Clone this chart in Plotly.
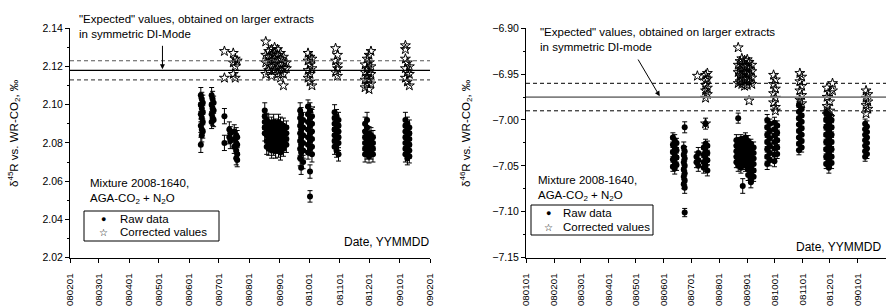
import pandas as pd
import plotly.graph_objects as go

W, H = 886, 306

# ---------------- LEFT PANEL : delta45R ----------------
l_raw_date = """
080613 080613 080613 080613 080613
080614 080614 080614 080614 080614
080615 080615 080615 080615
080624 080624 080624 080624
080625 080625 080625
080626 080626 080626
080707 080707
080712 080712
080713 080713
080717 080717 080717
080719 080719 080719 080719
080720 080720 080720 080720
080817 080817 080817 080817 080817
080819 080819 080819 080819 080819 080819
080821 080821 080821 080821 080821 080821
080824 080824 080824 080824 080824 080824
080826 080826 080826 080826 080826 080826
080828 080828 080828 080828 080828 080828
080831 080831 080831 080831 080831 080831
080902 080902 080902 080902 080902 080902
080905 080905 080905 080905 080905
080908 080908 080908 080908
080922 080922 080922 080922 080922 080922 080922
080923 080923 080923 080923 080923 080923 080923
080925 080925 080925 080925 080925 080925
080930 080930 080930 080930 080930 080930 080930
081002 081002 081002 081002 081002 081002 081002 081002
081004 081004 081004 081004 081004 081004
081027 081027 081027 081027 081027 081027 081027
081029 081029 081029 081029 081029 081029 081029
081031 081031 081031 081031 081031 081031
081127 081127 081127 081127 081127 081127
081129 081129 081129 081129 081129 081129
081201 081201 081201 081201 081201
081203 081203 081203 081203
081205 081205 081205 081205
090107 090107 090107 090107 090107 090107 090107
090109 090109 090109 090109 090109 090109 090109
090111 090111 090111 090111 090111 090111
""".split()

l_raw_val = [
    2.105, 2.100, 2.095, 2.089, 2.079,
    2.103, 2.098, 2.093, 2.087, 2.084,
    2.101, 2.096, 2.091, 2.086,
    2.105, 2.100, 2.095, 2.091,
    2.103, 2.098, 2.093,
    2.101, 2.097, 2.092,
    2.094, 2.080,
    2.087, 2.083,
    2.085, 2.081,
    2.086, 2.082, 2.078,
    2.084, 2.080, 2.076, 2.072,
    2.083, 2.079, 2.074, 2.071,
    2.097, 2.094, 2.091, 2.088, 2.085,
    2.092, 2.089, 2.087, 2.084, 2.081, 2.078,
    2.091, 2.088, 2.085, 2.083, 2.080, 2.077,
    2.090, 2.087, 2.084, 2.081, 2.079, 2.076,
    2.091, 2.088, 2.086, 2.083, 2.080, 2.077,
    2.089, 2.087, 2.084, 2.081, 2.078, 2.076,
    2.091, 2.088, 2.085, 2.082, 2.079, 2.076,
    2.090, 2.087, 2.084, 2.081, 2.078, 2.075,
    2.089, 2.086, 2.083, 2.080, 2.077,
    2.088, 2.085, 2.082, 2.079,
    2.097, 2.093, 2.089, 2.085, 2.081, 2.077, 2.072,
    2.095, 2.091, 2.087, 2.083, 2.079, 2.075, 2.067,
    2.092, 2.088, 2.084, 2.080, 2.076, 2.070,
    2.099, 2.095, 2.091, 2.087, 2.083, 2.079, 2.075,
    2.097, 2.093, 2.089, 2.085, 2.081, 2.077, 2.065, 2.052,
    2.094, 2.090, 2.086, 2.082, 2.078, 2.074,
    2.096, 2.093, 2.090, 2.087, 2.084, 2.081, 2.078,
    2.094, 2.091, 2.088, 2.085, 2.082, 2.079, 2.076,
    2.092, 2.089, 2.086, 2.083, 2.080, 2.074,
    2.090, 2.086, 2.083, 2.080, 2.077, 2.074,
    2.092, 2.088, 2.084, 2.081, 2.078, 2.075,
    2.085, 2.082, 2.079, 2.076, 2.073,
    2.084, 2.081, 2.078, 2.075,
    2.083, 2.080, 2.077, 2.074,
    2.092, 2.089, 2.086, 2.083, 2.080, 2.077, 2.074,
    2.090, 2.087, 2.084, 2.081, 2.078, 2.075, 2.072,
    2.088, 2.085, 2.082, 2.079, 2.076, 2.073,
]

l_raw_err = [
    0.004, 0.0035, 0.004, 0.0035, 0.004,
    0.0035, 0.004, 0.0035, 0.004, 0.0035,
    0.004, 0.0035, 0.004, 0.0035,
    0.004, 0.0035, 0.004, 0.0035,
    0.004, 0.0035, 0.004,
    0.0035, 0.004, 0.0035,
    0.004, 0.004,
    0.004, 0.0035,
    0.0035, 0.004,
    0.0035, 0.004, 0.0035,
    0.004, 0.0035, 0.004, 0.0035,
    0.0035, 0.004, 0.0035, 0.0035,
    0.004, 0.0035, 0.004, 0.0035, 0.004,
    0.0035, 0.004, 0.0035, 0.004, 0.0035, 0.004,
    0.004, 0.0035, 0.004, 0.0035, 0.004, 0.0035,
    0.0035, 0.004, 0.0035, 0.004, 0.0035, 0.004,
    0.004, 0.0035, 0.004, 0.0035, 0.004, 0.0035,
    0.0035, 0.004, 0.0035, 0.004, 0.0035, 0.004,
    0.004, 0.0035, 0.004, 0.0035, 0.004, 0.0035,
    0.0035, 0.004, 0.0035, 0.004, 0.0035, 0.004,
    0.004, 0.0035, 0.004, 0.0035, 0.004,
    0.0035, 0.004, 0.0035, 0.004,
    0.004, 0.0035, 0.004, 0.0035, 0.004, 0.0035, 0.004,
    0.0035, 0.004, 0.0035, 0.004, 0.0035, 0.004, 0.0035,
    0.004, 0.0035, 0.004, 0.0035, 0.004, 0.0035,
    0.0035, 0.004, 0.0035, 0.004, 0.0035, 0.004, 0.0035,
    0.004, 0.0035, 0.004, 0.0035, 0.004, 0.0035, 0.0035, 0.003,
    0.0035, 0.004, 0.0035, 0.004, 0.0035, 0.004,
    0.004, 0.0035, 0.004, 0.0035, 0.004, 0.0035, 0.004,
    0.0035, 0.004, 0.0035, 0.004, 0.0035, 0.004, 0.0035,
    0.004, 0.0035, 0.004, 0.0035, 0.004, 0.0035,
    0.0035, 0.004, 0.0035, 0.004, 0.0035, 0.004,
    0.004, 0.0035, 0.004, 0.0035, 0.004, 0.0035,
    0.0035, 0.004, 0.0035, 0.004, 0.0035,
    0.004, 0.0035, 0.004, 0.0035,
    0.0035, 0.004, 0.0035, 0.004,
    0.004, 0.0035, 0.004, 0.0035, 0.004, 0.0035, 0.004,
    0.0035, 0.004, 0.0035, 0.004, 0.0035, 0.004, 0.0035,
    0.004, 0.0035, 0.004, 0.0035, 0.004, 0.0035,
]

l_cor_date = """
080707 080707
080716 080716 080716
080718 080718 080718
080720
080818 080818 080818 080818
080821 080821 080821 080821
080824 080824 080824 080824 080824
080827 080827 080827 080827 080827
080830 080830 080830 080830 080830
080902 080902 080902 080902 080902
080905 080905 080905 080905 080905
080908 080908
080930 080930 080930 080930
081002 081002 081002 081002 081002
081004 081004 081004
081028 081028 081028
081030 081030 081030 081030
081127 081127 081127 081127
081129 081129 081129 081129
081201 081201 081201 081201 081201
081203 081203 081203 081203
090107 090107 090107 090107 090107
090109 090109 090109
090111 090111 090111
""".split()

l_cor_val = [
    2.128, 2.114,
    2.127, 2.122, 2.116,
    2.124, 2.120, 2.114,
    2.123,
    2.133, 2.126, 2.122, 2.116,
    2.128, 2.125, 2.121, 2.118,
    2.129, 2.126, 2.123, 2.120, 2.115,
    2.130, 2.127, 2.124, 2.121, 2.118,
    2.129, 2.126, 2.122, 2.119, 2.116,
    2.127, 2.124, 2.121, 2.118, 2.114,
    2.125, 2.122, 2.119, 2.116, 2.110,
    2.122, 2.119,
    2.127, 2.123, 2.118, 2.114,
    2.125, 2.121, 2.116, 2.112, 2.098,
    2.124, 2.119, 2.110,
    2.1295, 2.123, 2.117,
    2.126, 2.121, 2.119, 2.115,
    2.121, 2.117, 2.113, 2.109,
    2.124, 2.119, 2.115, 2.111,
    2.126, 2.122, 2.117, 2.113, 2.108,
    2.128, 2.120, 2.116, 2.111,
    2.131, 2.129, 2.124, 2.119, 2.114,
    2.122, 2.117, 2.112,
    2.120, 2.116, 2.110,
]

l_expected = 2.118
l_tol = 0.005

# ---------------- RIGHT PANEL : delta46R ----------------
r_raw_date = """
080611 080611 080611 080611 080611
080613 080613 080613 080613 080613
080615 080615 080615 080615
080623 080623 080623 080623 080623 080623
080624 080624 080624 080624 080624 080624 080624 080624
080707 080707
080709 080709 080709
080715 080715 080715 080715
080717 080717 080717 080717 080717
080719 080719 080719 080719
080820 080820 080820 080820 080820
080822 080822 080822 080822 080822 080822
080825 080825 080825 080825 080825 080825
080827 080827 080827 080827 080827 080827
080830 080830 080830 080830 080830 080830
080902 080902 080902 080902 080902 080902 080902
080905 080905 080905 080905 080905 080905 080905 080905
080908 080908 080908 080908 080908 080908
080923 080923 080923 080923 080923 080923 080923
080926 080926 080926 080926 080926 080926
081001 081001 081001 081001 081001 081001 081001
081004 081004 081004 081004 081004
081028 081028 081028 081028 081028 081028 081028 081028
081031 081031 081031 081031 081031 081031 081031
081127 081127 081127 081127 081127 081127 081127 081127
081130 081130 081130 081130 081130 081130 081130 081130
081203 081203 081203 081203 081203 081203 081203
090109 090109 090109 090109 090109 090109 090109
090111 090111 090111 090111 090111 090111
""".split()

r_raw_val = [
    -7.019, -7.027, -7.035, -7.043, -7.051,
    -7.022, -7.030, -7.038, -7.046, -7.053,
    -7.025, -7.033, -7.041, -7.049,
    -7.030, -7.038, -7.046, -7.054, -7.062, -7.070,
    -7.008, -7.034, -7.042, -7.050, -7.058, -7.066, -7.074, -7.101,
    -7.040, -7.046,
    -7.036, -7.044, -7.050,
    -7.030, -7.038, -7.046, -7.052,
    -7.004, -7.026, -7.034, -7.042, -7.050,
    -7.028, -7.036, -7.044, -7.055,
    -7.022, -7.028, -7.034, -7.040, -7.046,
    -6.998, -7.025, -7.031, -7.037, -7.043, -7.050,
    -7.021, -7.027, -7.033, -7.039, -7.045, -7.052,
    -7.024, -7.030, -7.036, -7.042, -7.048, -7.072,
    -7.019, -7.026, -7.032, -7.038, -7.044, -7.050,
    -7.023, -7.029, -7.035, -7.041, -7.047, -7.054, -7.060,
    -7.026, -7.032, -7.038, -7.044, -7.050, -7.057, -7.064, -7.068,
    -7.030, -7.036, -7.042, -7.048, -7.055, -7.062,
    -7.000, -7.008, -7.016, -7.024, -7.032, -7.040, -7.048,
    -7.004, -7.012, -7.020, -7.028, -7.036, -7.044,
    -7.003, -7.010, -7.017, -7.024, -7.031, -7.038, -7.045,
    -7.006, -7.014, -7.022, -7.030, -7.037,
    -6.984, -6.991, -6.998, -7.005, -7.012, -7.019, -7.026, -7.033,
    -6.988, -6.995, -7.002, -7.009, -7.016, -7.023, -7.030,
    -6.992, -7.000, -7.008, -7.016, -7.024, -7.032, -7.040, -7.048,
    -6.996, -7.004, -7.012, -7.020, -7.028, -7.036, -7.044, -7.052,
    -7.000, -7.008, -7.016, -7.024, -7.032, -7.040, -7.047,
    -7.004, -7.010, -7.016, -7.022, -7.028, -7.034, -7.040,
    -7.007, -7.013, -7.019, -7.025, -7.031, -7.037,
]

r_raw_err = [
    0.005, 0.006, 0.005, 0.006, 0.005,
    0.006, 0.005, 0.006, 0.005, 0.006,
    0.005, 0.006, 0.005, 0.006,
    0.006, 0.005, 0.006, 0.005, 0.006, 0.005,
    0.006, 0.005, 0.006, 0.005, 0.006, 0.005, 0.006, 0.0045,
    0.005, 0.006,
    0.006, 0.005, 0.006,
    0.005, 0.006, 0.005, 0.006,
    0.006, 0.005, 0.006, 0.005, 0.006,
    0.005, 0.006, 0.005, 0.006,
    0.006, 0.005, 0.006, 0.005, 0.006,
    0.0055, 0.006, 0.005, 0.006, 0.005, 0.006,
    0.005, 0.006, 0.005, 0.006, 0.005, 0.006,
    0.006, 0.005, 0.006, 0.005, 0.006, 0.008,
    0.005, 0.006, 0.005, 0.006, 0.005, 0.006,
    0.006, 0.005, 0.006, 0.005, 0.006, 0.005, 0.006,
    0.005, 0.006, 0.005, 0.006, 0.005, 0.006, 0.005, 0.006,
    0.006, 0.005, 0.006, 0.005, 0.006, 0.005,
    0.006, 0.005, 0.006, 0.005, 0.006, 0.005, 0.006,
    0.005, 0.006, 0.005, 0.006, 0.005, 0.006,
    0.006, 0.005, 0.006, 0.005, 0.006, 0.005, 0.006,
    0.005, 0.006, 0.005, 0.006, 0.005,
    0.006, 0.005, 0.006, 0.005, 0.006, 0.005, 0.006, 0.005,
    0.005, 0.006, 0.005, 0.006, 0.005, 0.006, 0.005,
    0.006, 0.005, 0.006, 0.005, 0.006, 0.005, 0.006, 0.005,
    0.005, 0.006, 0.005, 0.006, 0.005, 0.006, 0.005, 0.006,
    0.006, 0.005, 0.006, 0.005, 0.006, 0.005, 0.006,
    0.005, 0.006, 0.005, 0.006, 0.005, 0.006, 0.005,
    0.006, 0.005, 0.006, 0.005, 0.006, 0.005,
]

r_cor_date = """
080708
080717 080717 080717 080717 080717 080717
080719 080719 080719 080719
080822 080822 080822 080822
080824 080824 080824 080824
080826 080826 080826 080826 080826
080829 080829 080829 080829 080829
080901 080901 080901 080901 080901
080903 080903 080903 080903 080903
080906 080906 080906 080906
080930 080930 080930 080930
081002 081002 081002 081002 081002
081029 081029 081029 081029
081031 081031 081031 081031
081128 081128 081128 081128
081201 081201 081201 081201
081204 081204
090110 090110 090110 090110
090112 090112 090112
""".split()

r_cor_val = [
    -6.952,
    -6.951, -6.957, -6.962, -6.968, -6.976, -7.004,
    -6.949, -6.955, -6.965, -6.972,
    -6.921, -6.940, -6.948, -6.960,
    -6.936, -6.944, -6.951, -6.958,
    -6.933, -6.940, -6.947, -6.954, -6.961,
    -6.935, -6.942, -6.949, -6.956, -6.963,
    -6.934, -6.941, -6.948, -6.955, -6.962,
    -6.937, -6.944, -6.951, -6.958, -6.979,
    -6.940, -6.947, -6.954, -6.961,
    -6.951, -6.961, -6.971, -6.981,
    -6.956, -6.966, -6.976, -6.986, -6.990,
    -6.949, -6.958, -6.968, -6.978,
    -6.953, -6.963, -6.973, -6.982,
    -6.965, -6.975, -6.985, -6.994,
    -6.970, -6.980, -6.990, -6.997,
    -6.960, -6.968,
    -6.968, -6.976, -6.984, -6.993,
    -6.972, -6.980, -6.988,
]

r_expected = -6.975
r_tol = 0.015

# ---------------- figure ----------------
FONT = "Liberation Sans, Arial, sans-serif"


def px(x):
    return x / W


def py(y):
    return 1 - y / H


def dates(lst):
    return pd.to_datetime(lst, format="%y%m%d")


fig = go.Figure()

raw_marker = dict(symbol="circle", size=6, color="black")
star_marker = dict(symbol="star-open", size=7.5, color="black", line=dict(width=1, color="black"))
err_style = dict(type="data", color="black", thickness=1, width=2.5, visible=True)

fig.add_trace(go.Scatter(x=dates(l_raw_date), y=l_raw_val, mode="markers", marker=raw_marker,
                         error_y=dict(array=l_raw_err, **err_style), xaxis="x", yaxis="y",
                         name="Raw data", showlegend=False))
fig.add_trace(go.Scatter(x=dates(l_cor_date), y=l_cor_val, mode="markers", marker=star_marker,
                         xaxis="x", yaxis="y", name="Corrected values", showlegend=False))
fig.add_trace(go.Scatter(x=dates(r_raw_date), y=r_raw_val, mode="markers", marker=raw_marker,
                         error_y=dict(array=r_raw_err, **err_style), xaxis="x2", yaxis="y2",
                         name="Raw data", showlegend=False))
fig.add_trace(go.Scatter(x=dates(r_cor_date), y=r_cor_val, mode="markers", marker=star_marker,
                         xaxis="x2", yaxis="y2", name="Corrected values", showlegend=False))

ydom = [py(257.5), py(28.3)]
xcommon = dict(type="date", tickformat="%y%m%d", dtick="M1", tick0="2008-01-01", tickangle=-90,
               ticks="outside", ticklen=4, tickcolor="black", showline=True, linecolor="black",
               linewidth=1, showgrid=False, zeroline=False, automargin=False,
               ticklabelstandoff=7,
               tickfont=dict(size=9.8, color="black", family=FONT))
ycommon = dict(ticks="outside", ticklen=4, tickcolor="black", showline=True, linecolor="black",
               linewidth=1, showgrid=False, zeroline=False, tickformat=".2f", automargin=False,
               tickfont=dict(size=10.5, color="black", family=FONT), domain=ydom)

fig.update_layout(
    width=W, height=H, margin=dict(l=0, r=0, t=0, b=0, autoexpand=False),
    paper_bgcolor="white", plot_bgcolor="white",
    font=dict(family=FONT, color="black", size=11.5),
    showlegend=False,
    xaxis=dict(domain=[px(70), px(430)], range=["2008-02-01", "2009-02-01"], anchor="y", **xcommon),
    yaxis=dict(range=[2.02, 2.14], dtick=0.02, anchor="x",
               minor=dict(dtick=0.01, ticks="outside", ticklen=2.5, tickcolor="black"), **ycommon),
    xaxis2=dict(domain=[px(526), 1.0], range=["2008-01-01", "2009-02-01"], anchor="y2", **xcommon),
    yaxis2=dict(range=[-7.15, -6.90], dtick=0.05, anchor="x2",
                minor=dict(dtick=0.025, ticks="outside", ticklen=2.5, tickcolor="black"), **ycommon),
)

shapes = []
# expected value lines
shapes.append(dict(type="line", xref="x domain", x0=0, x1=1, yref="y", y0=l_expected, y1=l_expected,
                   line=dict(color="black", width=1.3)))
for v in (l_expected + l_tol, l_expected - l_tol):
    shapes.append(dict(type="line", xref="x domain", x0=0, x1=1, yref="y", y0=v, y1=v,
                       line=dict(color="#555555", width=1.1, dash="4px,3px")))
shapes.append(dict(type="line", xref="x2 domain", x0=0, x1=1, yref="y2", y0=r_expected, y1=r_expected,
                   line=dict(color="#808080", width=1.8)))
for v in (r_expected + r_tol, r_expected - r_tol):
    shapes.append(dict(type="line", xref="x2 domain", x0=0, x1=1, yref="y2", y0=v, y1=v,
                       line=dict(color="black", width=1, dash="4px,3px")))
# legend boxes
shapes.append(dict(type="rect", xref="paper", yref="paper", x0=px(84), x1=px(219), y0=py(241), y1=py(211),
                   line=dict(color="black", width=1), fillcolor="white", layer="below"))
shapes.append(dict(type="rect", xref="paper", yref="paper", x0=px(531), x1=px(653), y0=py(235), y1=py(205),
                   line=dict(color="black", width=1), fillcolor="white", layer="below"))
fig.update_layout(shapes=shapes)

ann = []


def text(x, y, s, xanchor="left", size=11.5, **kw):
    ann.append(dict(x=px(x), y=py(y), xref="paper", yref="paper", text=s, showarrow=False,
                    xanchor=xanchor, yanchor="middle", align="left",
                    font=dict(size=size, family=FONT, color="black"), **kw))


# y-axis titles
text(14, 133, "δ<sup>45</sup>R vs. WR-CO<sub>2</sub>, ‰", xanchor="center", textangle=-90)
text(466, 133, "δ<sup>46</sup>R vs. WR-CO<sub>2</sub>, ‰", xanchor="center", textangle=-90)

# expected value labels
text(77, 26.5, "\"Expected\" values, obtained on larger extracts<br>in symmetric DI-Mode")
text(538, 40, "\"Expected\" values, obtained on larger extracts<br>in symmetric DI-mode")

# mixture labels
text(88, 191, "Mixture 2008-1640,<br>AGA-CO<sub>2</sub> + N<sub>2</sub>O")
text(536, 188, "Mixture 2008-1640,<br>AGA-CO<sub>2</sub> + N<sub>2</sub>O")

# x-axis labels
text(431, 242, "Date, YYMMDD", xanchor="right", size=12)
text(883, 247, "Date, YYMMDD", xanchor="right", size=12)

# legends
text(103, 219, "●", xanchor="center", size=9)
text(103, 232, "☆", xanchor="center", size=10)
text(118, 219, "Raw data")
text(118, 232, "Corrected values")
text(548, 213, "●", xanchor="center", size=9)
text(548, 227, "☆", xanchor="center", size=10)
text(561, 213, "Raw data")
text(561, 227, "Corrected values")

# arrows pointing at expected values
ann.append(dict(x=pd.Timestamp("2008-05-05"), y=l_expected, xref="x", yref="y", text="", showarrow=True,
                ax=0, ay=-26, arrowhead=2, arrowsize=1, arrowwidth=1, arrowcolor="black", standoff=1))
ann.append(dict(x=pd.Timestamp("2008-05-28"), y=r_expected, xref="x2", yref="y2", text="", showarrow=True,
                ax=-23, ay=-39, arrowhead=2, arrowsize=1, arrowwidth=1, arrowcolor="black", standoff=1))

fig.update_layout(annotations=ann)

fig.write_html("out.html", config={"displayModeBar": False},
               post_script="document.body.style.margin='0px';document.body.style.overflow='hidden';")
